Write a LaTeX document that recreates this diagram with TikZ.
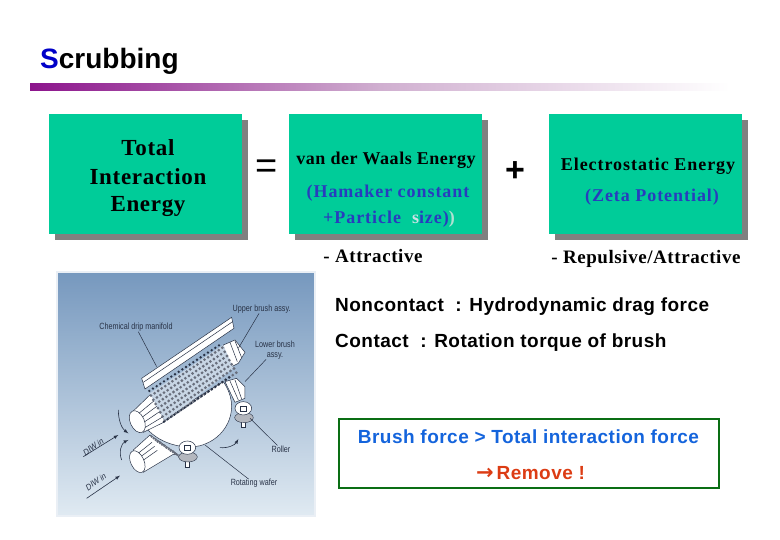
\documentclass[tikz,border=0pt]{standalone}
\usepackage{fontspec}
\setmainfont{Liberation Serif}
\setsansfont{Liberation Sans}
\definecolor{boxteal}{RGB}{0,204,153}
\definecolor{boxshadow}{RGB}{128,128,128}
\definecolor{inkblue}{RGB}{40,60,190}
\definecolor{sizepale}{RGB}{205,225,230}
\definecolor{ghostpale}{RGB}{175,225,210}
\definecolor{titleblue}{RGB}{0,0,200}
\definecolor{barpurple}{RGB}{140,20,140}
\definecolor{barmid}{RGB}{208,175,208}
\definecolor{framegreen}{RGB}{10,110,20}
\definecolor{brushblue}{RGB}{20,100,220}
\definecolor{removered}{RGB}{220,60,20}
\definecolor{phototop}{RGB}{118,152,190}
\definecolor{photobot}{RGB}{224,234,242}
\definecolor{photoink}{RGB}{40,50,70}
\tikzset{
  boxlabel/.style={font=\fontsize{#1}{#1}\selectfont\bfseries\addfontfeatures{LetterSpace=3},inner sep=0pt},
  widelabel/.style={font=\fontsize{#1}{#1}\selectfont\bfseries\addfontfeatures{LetterSpace=5.3},inner sep=0pt},
  sidelabel/.style={font=\sffamily\fontsize{#1}{#1}\selectfont\bfseries\addfontfeatures{LetterSpace=2.5},inner sep=0pt,anchor=west},
  photolabel/.style={font=\sffamily\fontsize{9}{10}\selectfont,text=photoink,inner sep=0pt,align=center,transform shape,xscale=.8},
  photoline/.style={draw=photoink,line width=.5pt},
  photobody/.style={draw=photoink,line width=.5pt,fill=white},
  photoarrow/.style={draw=photoink,line width=.6pt,-latex},
}
\begin{document}
\begin{tikzpicture}[x=1pt,y=-1pt]
\useasboundingbox (0,0) rectangle (780,540);

% title and bar
\node[font=\sffamily\fontsize{28}{28}\selectfont\bfseries,inner sep=0pt,anchor=west] (title) at (40,61) {\textcolor{titleblue}{S}crubbing};
\fill[left color=barpurple,right color=white,middle color=barmid] (30,84) rectangle (730,91);

% boxes
\fill[boxshadow] (55,120) rectangle (248,240);
\fill[boxteal] (49,114) rectangle (242,234);
\fill[boxshadow] (295,120) rectangle (488,240);
\fill[boxteal] (289,114) rectangle (482,234);
\fill[boxshadow] (555,120) rectangle (748,240);
\fill[boxteal] (549,114) rectangle (742,234);

\node[boxlabel=23] (total) at (148,148) {Total};
\node[boxlabel=23] (interaction) at (148,177) {Interaction};
\node[boxlabel=23] (energy) at (148,207) {Energy};

\node[font=\sffamily\fontsize{38}{38}\selectfont,inner sep=0pt] (equals) at (267,169) {=};
\node[font=\sffamily\fontsize{34}{34}\selectfont\bfseries,inner sep=0pt] (plus) at (515,172) {+};

\node[boxlabel=18] (waals) at (386,160.5) {van der Waals Energy};
\node[widelabel=18,text=inkblue] (hamaker) at (388,193) {(Hamaker constant};
\node[widelabel=18,text=inkblue] (particle) at (389,219) {+Particle\hspace{11pt}\textcolor{sizepale}{s}ize)\textcolor{ghostpale}{)}};
\node[widelabel=18] (electro) at (648,166) {Electrostatic Energy};
\node[widelabel=18,text=inkblue] (zeta) at (652,197) {(Zeta Potential)};
\node[boxlabel=19] (attractive) at (373,256) {- Attractive};
\node[boxlabel=19] (repulsive) at (646,258.5) {- Repulsive/Attractive};

% side text
\node[sidelabel=19] (noncontact) at (335,307) {Noncontact\ \ : Hydrodynamic drag force};
\node[sidelabel=19] (contact) at (335,343) {Contact\ \ : Rotation torque of brush};
\draw[framegreen,line width=2.2pt] (339,419) rectangle (719,488);
\node[sidelabel=19,anchor=center,text=brushblue] (brushforce) at (528.5,437) {Brush force > Total interaction force};
\node[sidelabel=19,anchor=center,text=removered] (remove) at (530.5,473) {{\fontspec{DejaVu Sans}\fontsize{21}{21}\selectfont →}\hspace{3pt}Remove !};

% photo
\shade[top color=phototop,bottom color=photobot] (57,272) rectangle (315,516);
\draw[white!85!phototop,line width=1.5pt] (57,272) rectangle (315,516);
\begin{scope}[shift={(50,265)},x=.3333pt,y=-.3333pt]
  % lower brush
  \filldraw[photobody] (250,555) -- (300,510) -- (385,570) -- (370,568) -- (280,622) -- cycle;
  \foreach \i in {0,...,5} \foreach \j in {0,...,3}
    \fill[photoink!70] (305+\i*13+\j*6,515+\i*9-\j*7+\j*12) circle (4);
  \foreach \i in {1,2,3}
    \draw[photoline] (255+\i*2,557+\i*14) -- (298+\i*8,520+\i*12);
  \filldraw[photobody,rotate around={25:(262,590)}] (262,590) ellipse (20 and 35);
  \filldraw[photobody] (525,350) -- (560,340) -- (585,365) -- (585,400) -- (555,412) -- cycle;
  \draw[photoline] (540,348) -- (565,405) (555,345) -- (575,402);

  % wafer
  \filldraw[photobody] (290,490) .. controls (330,540) and (420,560) .. (470,535)
    .. controls (530,510) and (575,430) .. (520,350) -- cycle;

  % rollers
  \foreach \rx/\ry in {412/548,580/430} {
    \filldraw[photobody] (\rx-7,\ry+30) rectangle (\rx+7,\ry+58);
    \filldraw[fill=photoink!35,draw=photoink] (\rx+2,\ry+28) ellipse (28 and 15);
    \filldraw[photobody] (\rx,\ry) ellipse (25 and 20);
    \draw[photoline] (\rx-8,\ry-6) rectangle (\rx+8,\ry+8);
  }

  % upper brush
  \filldraw[photobody] (250,438) -- (305,385) -- (345,470) -- (280,502) -- cycle;
  \foreach \i in {1,2,3,4}
    \draw[photoline] (250+\i*7,440+\i*13) -- (305+\i*9,390+\i*16);
  \filldraw[photobody,rotate around={25:(262,470)}] (262,470) ellipse (21 and 35);
  \filldraw[photobody] (520,240) -- (555,225) -- (585,262) -- (565,295) -- (535,310) -- cycle;
  \draw[photoline] (540,232) -- (562,290) (555,228) -- (575,278);
  \fill[white!60!phototop] (300,385) -- (520,240) -- (550,310) -- (345,470) -- cycle;
  \foreach \i in {0,...,20} \foreach \j in {0,...,6}
    \fill[photoink!70] (303+\i*10.7+\j*7,392-\i*7.2+\j*12.5) circle (4.6);
  \foreach \i in {0,...,19} {
    \fill[photoink] (298+\i*11,378-\i*7.2) circle (4);
    \fill[photoink] (342+\i*10.3,470-\i*7) circle (4);
  }

  % manifold
  \filldraw[photobody] (275,340) -- (545,157) -- (552,190) -- (285,372) -- cycle;
  \draw[photoline] (280,352) -- (548,170);

  % labels in the photo
  \node[photolabel] (upperlabel) at (635,132) {Upper brush assy.};
  \node[photolabel] (manifoldlabel) at (258,187) {Chemical drip manifold};
  \node[photolabel] (lowerlabel) at (675,255) {Lower brush\\assy.};
  \node[photolabel] (rollerlabel) at (693,552) {Roller};
  \node[photolabel] (waferlabel) at (612,655) {Rotating wafer};
  \node[photolabel,rotate=30] (diwtop) at (130,545) {DIW in};
  \node[photolabel,rotate=30] (diwbot) at (138,650) {DIW in};

  \coordinate (uppertip) at (565,250);
  \coordinate (manifoldtip) at (320,305);
  \coordinate (lowertip) at (585,350);
  \coordinate (rollertip) at (600,460);
  \coordinate (wafertip) at (465,540);
  \draw[photoline] (upperlabel) -- (uppertip);
  \draw[photoline] (manifoldlabel) -- (manifoldtip);
  \draw[photoline] (lowerlabel) -- (lowertip);
  \draw[photoline] (rollerlabel) -- (rollertip);
  \draw[photoline] (waferlabel) -- (wafertip);

  % arrows in the photo
  \coordinate (diwa) at (100,575);
  \coordinate (diwb) at (205,510);
  \coordinate (diwc) at (110,700);
  \coordinate (diwd) at (210,632);
  \draw[photoarrow] (diwa) -- (diwb);
  \draw[photoarrow] (diwc) -- (diwd);
  \draw[photoarrow] (205,435) .. controls (205,465) and (215,490) .. (235,505);
  \draw[photoarrow] (215,585) .. controls (205,560) and (215,535) .. (235,525);
  \draw[photoarrow] (510,548) .. controls (535,550) and (555,540) .. (565,522);
\end{scope}
\end{tikzpicture}
\end{document}
